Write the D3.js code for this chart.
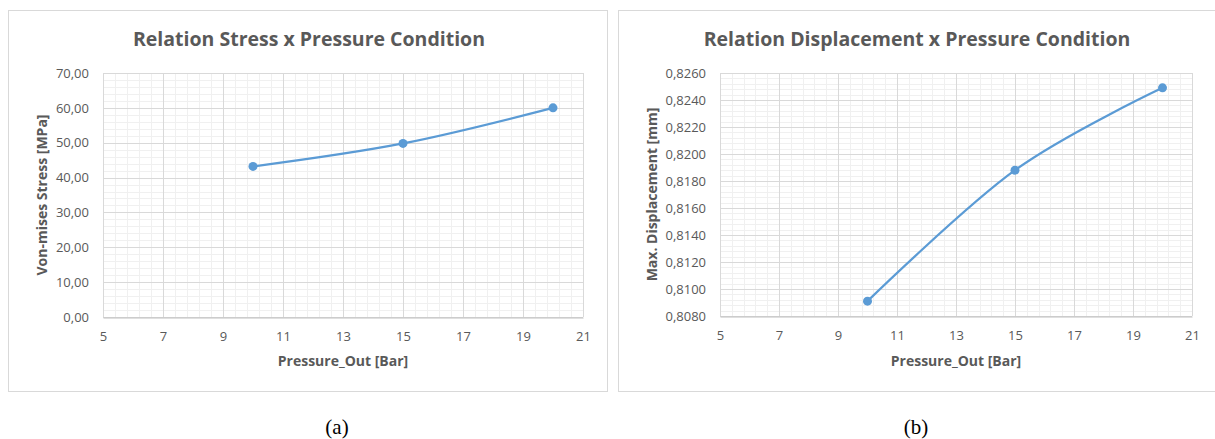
<!DOCTYPE html>
<html>
<head>
<meta charset="utf-8">
<script src="https://cdn.jsdelivr.net/npm/d3@7"></script>
<style>
  body { margin: 0; background: #fff; }
  .tick text { font-family: "Open Sans", sans-serif; fill: #595959; }
</style>
</head>
<body>
<div id="chart"></div>
<script>
var w = 1215;
var h = 439;

// data
var pressure = [10, 15, 20];
var stress = [43.2, 49.8, 60.0];
var displacement = [0.8091, 0.8188, 0.8249];

var xTicks = [5, 7, 9, 11, 13, 15, 17, 19, 21];
var stressTicks = [0, 10, 20, 30, 40, 50, 60, 70];
var dispTicks = [0.808, 0.810, 0.812, 0.814, 0.816, 0.818, 0.820, 0.822, 0.824, 0.826];

var titles = ["Relation Stress x Pressure Condition", "Relation Displacement x Pressure Condition"];
var yTitles = ["Von-mises Stress [MPa]", "Max. Displacement [mm]"];
var xTitle = "Pressure_Out [Bar]";
var captions = ["(a)", "(b)"];

var locale = d3.formatLocale({ decimal: ",", thousands: ".", grouping: [3], currency: ["", ""] });

var svg = d3.select("#chart").append("svg").attr("width", w).attr("height", h);

function lineChart(cfg) {
    var g = svg.append("g");

    // chart frame
    g.append("rect")
        .attr("x", cfg.frame[0] + 0.5).attr("y", cfg.frame[1] + 0.5)
        .attr("width", cfg.frame[2]).attr("height", cfg.frame[3])
        .attr("fill", "#fff").attr("stroke", "#d9d9d9").attr("stroke-width", 1);

    var xScale = d3.scaleLinear().domain([5, 21]).range([cfg.left, cfg.right]);
    var yScale = d3.scaleLinear().domain([cfg.yTicks[0], cfg.yTicks[cfg.yTicks.length - 1]])
        .range([cfg.bottom, cfg.top]);

    // minor grid (5 per major step)
    var xMinor = [], yMinor = [];
    for (var i = 0; i < xTicks.length - 1; i++) {
        for (var k = 1; k < 5; k++) xMinor.push(xTicks[i] + (xTicks[i + 1] - xTicks[i]) * k / 5);
    }
    for (var j = 0; j < cfg.yTicks.length - 1; j++) {
        for (var m = 1; m < 5; m++) yMinor.push(cfg.yTicks[j] + (cfg.yTicks[j + 1] - cfg.yTicks[j]) * m / 5);
    }

    g.append("g").selectAll("line").data(xMinor).join("line")
        .attr("x1", function (d) { return Math.round(xScale(d)) + 0.5; })
        .attr("x2", function (d) { return Math.round(xScale(d)) + 0.5; })
        .attr("y1", cfg.top).attr("y2", cfg.bottom)
        .attr("stroke", "#f0f0f0");
    g.append("g").selectAll("line").data(yMinor).join("line")
        .attr("y1", function (d) { return Math.round(yScale(d)) + 0.5; })
        .attr("y2", function (d) { return Math.round(yScale(d)) + 0.5; })
        .attr("x1", cfg.left).attr("x2", cfg.right)
        .attr("stroke", "#f0f0f0");

    // major grid
    g.append("g").selectAll("line").data(xTicks).join("line")
        .attr("x1", function (d) { return Math.round(xScale(d)) + 0.5; })
        .attr("x2", function (d) { return Math.round(xScale(d)) + 0.5; })
        .attr("y1", cfg.top).attr("y2", cfg.bottom)
        .attr("stroke", "#d9d9d9");
    g.append("g").selectAll("line").data(cfg.yTicks).join("line")
        .attr("y1", function (d) { return Math.round(yScale(d)) + 0.5; })
        .attr("y2", function (d) { return Math.round(yScale(d)) + 0.5; })
        .attr("x1", cfg.left).attr("x2", cfg.right)
        .attr("stroke", "#d9d9d9");

    // axes
    var xAxis = d3.axisBottom(xScale).tickValues(xTicks).tickSize(0).tickPadding(14)
        .tickFormat(d3.format("d"));
    var xg = g.append("g").attr("transform", "translate(0," + (Math.round(cfg.bottom) + 0.5) + ")").call(xAxis);
    xg.select(".domain").attr("stroke", "#bfbfbf");
    xg.selectAll("text").attr("font-size", 13);

    var yAxis = d3.axisLeft(yScale).tickValues(cfg.yTicks).tickSize(0).tickPadding(14)
        .tickFormat(cfg.fmt);
    var yg = g.append("g").attr("transform", "translate(" + cfg.left + ",0)").call(yAxis);
    yg.select(".domain").remove();
    yg.selectAll("text").attr("font-size", 13);

    // line + markers
    var line = d3.line()
        .x(function (d, i) { return xScale(pressure[i]); })
        .y(function (d) { return yScale(d); })
        .curve(d3.curveCardinal.tension(0));

    g.append("path")
        .datum(cfg.values)
        .attr("d", line)
        .attr("fill", "none")
        .attr("stroke", "#5b9bd5")
        .attr("stroke-width", 2.25);

    g.append("g").selectAll("circle").data(cfg.values).join("circle")
        .attr("cx", function (d, i) { return xScale(pressure[i]); })
        .attr("cy", function (d) { return yScale(d); })
        .attr("r", 4.5)
        .attr("fill", "#5b9bd5");

    // titles
    g.append("text")
        .attr("x", cfg.titleX).attr("y", 46)
        .attr("text-anchor", "middle")
        .attr("font-family", "'Open Sans', sans-serif")
        .attr("font-weight", "bold").attr("font-size", 19.5)
        .attr("fill", "#595959")
        .text(cfg.title);

    g.append("text")
        .attr("x", (cfg.left + cfg.right) / 2).attr("y", 366)
        .attr("text-anchor", "middle")
        .attr("font-family", "'Open Sans', sans-serif")
        .attr("font-weight", "bold").attr("font-size", 14)
        .attr("fill", "#595959")
        .text(xTitle);

    g.append("text")
        .attr("transform", "translate(" + cfg.yTitleX + "," + (cfg.top + cfg.bottom) / 2 + ") rotate(-90)")
        .attr("text-anchor", "middle")
        .attr("font-family", "'Open Sans', sans-serif")
        .attr("font-weight", "bold").attr("font-size", 14)
        .attr("fill", "#595959")
        .text(cfg.yTitle);

    // caption
    g.append("text")
        .attr("x", cfg.captionX).attr("y", 434)
        .attr("text-anchor", "middle")
        .attr("font-family", "'Liberation Serif', 'DejaVu Serif', serif")
        .attr("font-size", 21)
        .attr("fill", "#000")
        .text(cfg.caption);
}

lineChart({
    frame: [8, 10, 599, 381],
    left: 103, right: 583, top: 73, bottom: 317,
    yTicks: stressTicks,
    fmt: locale.format(".2f"),
    values: stress,
    title: titles[0], titleX: 309,
    yTitle: yTitles[0], yTitleX: 47,
    caption: captions[0], captionX: 337
});

lineChart({
    frame: [618, 10, 610, 381],
    left: 720, right: 1192, top: 73, bottom: 316,
    yTicks: dispTicks,
    fmt: locale.format(".4f"),
    values: displacement,
    title: titles[1], titleX: 917,
    yTitle: yTitles[1], yTitleX: 657,
    caption: captions[1], captionX: 916
});
</script>
</body>
</html>
